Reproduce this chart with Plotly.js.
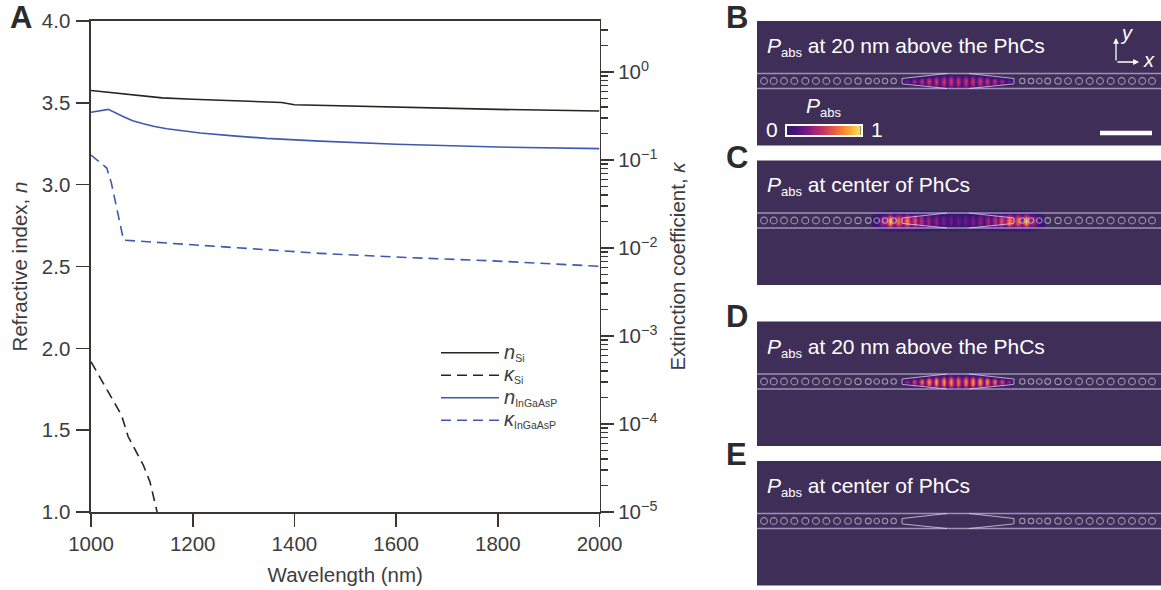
<!DOCTYPE html>
<html><head><meta charset="utf-8">
<script src="https://cdn.plot.ly/plotly-3.0.1.min.js"></script>
<style>html,body{margin:0;padding:0;background:#fff}#g{width:1161px;height:590px}</style>
</head><body><div id="g"></div>
<script>
// ---- Panel A data
const nSiWl = [1000,1050,1100,1140,1200,1300,1375,1400,1500,1600,1800,2000];
const nSi = [3.575,3.558,3.545,3.53,3.522,3.51,3.502,3.488,3.48,3.475,3.46,3.45];
const nIngaWl = [1000,1034,1064,1082,1103,1125,1149,1180,1215,1280,1345,1450,1600,1800,2000];
const nInga = [3.442,3.46,3.415,3.39,3.372,3.355,3.342,3.328,3.316,3.298,3.283,3.266,3.247,3.23,3.22];
const kIngaWl = [1000,1031,1040,1051,1064,1450,1600,1800,2000];
const kInga = [0.114,0.081,0.055,0.027,0.0123,0.0087,0.0079,0.0071,0.0062];
const kSiWl = [1000,1031,1060,1073,1103,1116,1130];
const kSi = [5.1e-4,2.43e-4,1.26e-4,7.2e-5,3.4e-5,2.2e-5,1.0e-5];
const seriesSymbols = ['n','κ','n','κ'];
const seriesSubs = ['Si','Si','InGaAsP','InGaAsP'];
const xTicks = [1000,1200,1400,1600,1800,2000];
const kTicks = [1e-5,1e-4,1e-3,1e-2,1e-1,1];
const kTickText = ['10<sup>−5</sup>','10<sup>−4</sup>','10<sup>−3</sup>','10<sup>−2</sup>','10<sup>−1</sup>','10<sup>0</sup>'];
const kMinor = [2e-5,3e-5,4e-5,5e-5,6e-5,7e-5,8e-5,9e-5,2e-4,3e-4,4e-4,5e-4,6e-4,7e-4,8e-4,9e-4,2e-3,3e-3,4e-3,5e-3,6e-3,7e-3,8e-3,9e-3,2e-2,3e-2,4e-2,5e-2,6e-2,7e-2,8e-2,9e-2,0.2,0.3,0.4,0.5,0.6,0.7,0.8,0.9,2,3];

// ---- Panels B-E geometry (offsets from the cavity centre)
const holeOffsets = [64.3,73,81.3,89.7,100,110,121,131.7,142,152.7,163.7,174,184.3,194];
const holeSizes = [5.4,5.4,5.6,5.8,6.2,6.6,6.8,6.8,6.8,6.8,6.8,6.8,6.8,6.8];
const waveguideEdge = 7.5;
const cavityOutlineX = [11,55,56,56,55,11];
const cavityOutlineY = [7.5,3,2.5,-2.5,-3,-7.5];

// ---- Absorbed power maps: half profiles read along the cavity, rows away from the centre line
const lobeXBD = [0,3.65,7.3,10.95,14.6,18.25,21.9,25.55,29.2,32.85,36.5,40.15,43.8,47.45,51.1,54.75,58.4];
const rowYBD = [0,2.5,4.5,6.5,7.5];
const bRow0 = [.55,.13,.55,.13,.56,.14,.56,.14,.56,.14,.54,.13,.46,.1,.34,.06,0];
const bRow1 = [.5,.12,.5,.12,.5,.13,.5,.12,.46,.11,.38,.09,.26,.05,.1,0,0];
const bRow2 = [.34,.1,.34,.1,.33,.1,.3,.08,.2,.06,.06,.02,0,0,0,0,0];
const bRow3 = [.14,.05,.14,.05,.1,.04,.04,.01,0,0,0,0,0,0,0,0,0];
const bRow4 = [0,0,0,0,0,0,0,0,0,0,0,0,0,0,0,0,0];
const dRow0 = [.78,.2,.84,.2,.88,.2,.9,.2,.88,.2,.82,.17,.66,.13,.46,.07,0];
const dRow1 = [.72,.18,.76,.18,.8,.18,.8,.17,.74,.15,.6,.12,.4,.07,.14,0,0];
const dRow2 = [.5,.14,.52,.14,.52,.13,.46,.1,.32,.08,.1,.03,0,0,0,0,0];
const dRow3 = [.2,.06,.2,.06,.14,.04,.06,.01,0,0,0,0,0,0,0,0,0];
const dRow4 = [0,0,0,0,0,0,0,0,0,0,0,0,0,0,0,0,0];
const lobeXC = [0,3.65,7.3,11,14.7,18.35,22,25.85,29.7,33.35,37,40,43,47,51.3,55.5,59.7,63.85,68,72,76,80,84,88];
const rowYC = [0,2.5,4.5,6.5,9,11];
const cRow0 = [.26,.1,.28,.11,.32,.12,.36,.14,.42,.17,.5,.25,.66,.3,.82,.35,.75,.32,.98,.35,.42,.15,.1,0];
const cRow1 = [.24,.09,.26,.1,.3,.11,.34,.13,.39,.16,.46,.23,.6,.28,.74,.32,.68,.3,.86,.32,.38,.13,.08,0];
const cRow2 = [.18,.08,.2,.08,.22,.09,.26,.1,.3,.12,.36,.18,.44,.2,.52,.24,.5,.22,.6,.24,.26,.1,.05,0];
const cRow3 = [.08,.04,.08,.04,.1,.05,.12,.05,.14,.06,.18,.1,.22,.12,.28,.14,.26,.12,.32,.14,.13,.06,.02,0];
const cRow4 = [.02,.02,.03,.02,.03,.02,.04,.02,.05,.03,.06,.04,.08,.05,.1,.06,.1,.06,.1,.05,.03,0,0,0];
const cRow5 = [0,0,0,0,0,0,0,0,0,0,0,0,0,0,0,0,0,0,0,0,0,0,0,0];
const barLevels = [.03,.08,.14,.2,.3,.4,.5,.6,.7,.8,.9,1];

const panelLetters = ['A','B','C','D','E'];
const panelCaptions = ['at 20 nm above the PhCs','at center of PhCs','at 20 nm above the PhCs','at center of PhCs'];

const W=1161,H=590;
const ink='#3b3533', text='#3d3d3d', blue='#3f58b4', dark='#2a2320', bg='rgb(63,47,88)';
const font='"Liberation Sans", Arial, sans-serif';
const px=v=>v/W, py=v=>1-v/H;
const pow=[[0,bg],[.04,'rgb(50,24,108)'],[.15,'rgb(74,20,128)'],[.3,'rgb(130,25,130)'],[.5,'rgb(200,50,105)'],[.7,'rgb(240,110,55)'],[.85,'rgb(250,170,50)'],[1,'rgb(252,235,110)']];

const mirrorX = a => a.slice(1).map(v=>-v).reverse().concat(a);
const mirrorR = r => r.slice(1).reverse().concat(r);
function grid(rows){ const full=rows.map(mirrorR); return full.slice(1).reverse().concat(full); }
const mirrorY = a => a.slice(1).map(v=>-v).reverse().concat(a);
const subLabel=(sym,sub)=>'<span style="font-size:20px"><i>'+sym+'</i></span><sub><span style="font-size:10.5px">'+sub+'</span></sub>';
const Pabs='<span style="font-size:21px"><i>P</i></span><sub><span style="font-size:13px">abs</span></sub>';

const line=(x,y,i,color,dash,ya)=>({type:'scatter',mode:'lines',x,y,name:subLabel(seriesSymbols[i],seriesSubs[i]),xaxis:'x',yaxis:ya,
  line:{color,width:1.6,dash:dash?'10px,6px':'solid'}});
const traces=[
  line(nSiWl,nSi,0,dark,false,'y'),
  line(kSiWl,kSi,1,dark,true,'y2'),
  line(nIngaWl,nInga,2,blue,false,'y'),
  line(kIngaWl,kInga,3,blue,true,'y2')
];

const panels=[{top:21,x:'x3',y:'y3',map:[lobeXBD,rowYBD,[bRow0,bRow1,bRow2,bRow3,bRow4]]},
              {top:160.5,x:'x4',y:'y4',map:[lobeXC,rowYC,[cRow0,cRow1,cRow2,cRow3,cRow4,cRow5]]},
              {top:321.5,x:'x5',y:'y5',map:[lobeXBD,rowYBD,[dRow0,dRow1,dRow2,dRow3,dRow4]]},
              {top:461,x:'x6',y:'y6',map:null}];
const layout={width:W,height:H,paper_bgcolor:'#fff',plot_bgcolor:'rgba(0,0,0,0)',
  margin:{l:0,r:0,t:0,b:0,autoexpand:false},font:{family:font,size:20.5,color:text},
  showlegend:true,
  legend:{x:px(436),y:py(336.5),xanchor:'left',yanchor:'top',bgcolor:'rgba(0,0,0,0)',itemwidth:58,font:{size:15,color:text},itemclick:false,itemdoubleclick:false},
  xaxis:{domain:[px(91),px(599.5)],range:[1000,2000],tickvals:xTicks,ticks:'outside',ticklen:13,tickwidth:1.6,tickcolor:ink,showline:true,linecolor:ink,linewidth:1.6,mirror:true,showgrid:false,zeroline:false,tickfont:{size:20.5,color:text},anchor:'y',title:{text:'Wavelength (nm)',font:{size:20.5,color:text},standoff:13}},
  yaxis:{domain:[py(512),py(21)],range:[1,4],tickvals:[1,1.5,2,2.5,3,3.5,4],ticktext:['1.0','1.5','2.0','2.5','3.0','3.5','4.0'],ticks:'outside',ticklen:13,ticklabelstandoff:2,tickwidth:1.6,tickcolor:ink,showline:true,linecolor:ink,linewidth:1.6,showgrid:false,zeroline:false,tickfont:{size:20.5,color:text},anchor:'x',title:{text:'Refractive index, <i>n</i>',font:{size:20.5,color:text},standoff:8}},
  yaxis2:{domain:[py(512),py(21)],type:'log',range:[-5,0.58],overlaying:'y',side:'right',anchor:'x',tickmode:'array',tickvals:kTicks,ticktext:kTickText,ticks:'outside',ticklen:13,tickwidth:1.6,tickcolor:ink,showline:true,linecolor:ink,linewidth:1.6,showgrid:false,zeroline:false,tickfont:{size:20.5,color:text},
    minor:{tickmode:'array',tickvals:kMinor,ticks:'outside',ticklen:7,tickwidth:1.4,tickcolor:ink,showgrid:false},
    title:{text:'Extinction coefficient, <i>κ</i>',font:{size:20.5,color:text},standoff:14}},
  shapes:[],annotations:[]
};
const note=(t,x,y,o={})=>layout.annotations.push(Object.assign({text:t,xref:'paper',yref:'paper',x:px(x),y:py(y),xanchor:'left',yanchor:'middle',showarrow:false,font:{size:21,color:'#fff'}},o));

panels.forEach((p,i)=>{
  const xn=p.x.replace('x','xaxis'), yn=p.y.replace('y','yaxis');
  layout[xn]={domain:[px(757),1],range:[-201,203],visible:false,anchor:p.y,fixedrange:true};
  layout[yn]={domain:[py(p.top+124.5),py(p.top)],range:[-64.5,60],visible:false,anchor:p.x,fixedrange:true};
  layout.shapes.push({type:'rect',layer:'below',xref:'paper',yref:'paper',x0:px(757),x1:1,y0:py(p.top+124.5),y1:py(p.top),fillcolor:bg,line:{width:0}});
  if(p.map){
    traces.push({type:'heatmap',x:mirrorX(p.map[0]),y:mirrorY(p.map[1]),z:grid(p.map[2]),xaxis:p.x,yaxis:p.y,zmin:0,zmax:1,zsmooth:'best',colorscale:pow,showscale:false,showlegend:false,hoverinfo:'skip'});
  }
  const wgX=[-201,203];
  [waveguideEdge,-waveguideEdge].forEach(e=>traces.push({type:'scatter',mode:'lines',x:wgX,y:[e,e],xaxis:p.x,yaxis:p.y,showlegend:false,hoverinfo:'skip',line:{color:'rgb(158,144,184)',width:1.6}}));
  const outX=[], outY=[];
  [-1,1].forEach(s=>{cavityOutlineX.forEach((v,k)=>{outX.push(s*v);outY.push(cavityOutlineY[k]);});outX.push(null);outY.push(null);});
  traces.push({type:'scatter',mode:'lines',x:outX,y:outY,xaxis:p.x,yaxis:p.y,showlegend:false,hoverinfo:'skip',line:{color:'rgba(225,218,234,0.75)',width:1}});
  const hx=holeOffsets.map(v=>-v).concat(holeOffsets), hs=holeSizes.concat(holeSizes);
  traces.push({type:'scatter',mode:'markers',x:hx,y:hx.map(()=>0),xaxis:p.x,yaxis:p.y,showlegend:false,hoverinfo:'skip',marker:{symbol:'circle-open',size:hs,color:'rgb(200,192,214)',line:{width:1.1,color:'rgb(200,192,214)'}}});
  note(Pabs+' '+panelCaptions[i],765,p.top+26);
  note('<b>'+panelLetters[i+1]+'</b>',724,p.top-3.5+(i==3?-3:0)+(i==2?-2:0),{font:{size:31,color:'#2b2b2b'}});
});
note('<b>A</b>',8,18,{font:{size:31,color:'#2b2b2b'}});

// colour key
traces.push({type:'heatmap',x:barLevels,y:[0,1],z:[barLevels,barLevels],xaxis:'x7',yaxis:'y7',zmin:0,zmax:1,zsmooth:'best',colorscale:pow,showscale:false,showlegend:false,hoverinfo:'skip'});
layout.xaxis7={domain:[px(786.5),px(861)],range:[.03,1],anchor:'y7',showticklabels:false,ticks:'',showgrid:false,zeroline:false,showline:true,mirror:true,linecolor:'#fff',linewidth:1.6};
layout.yaxis7={domain:[py(135),py(125.5)],range:[0,1],anchor:'x7',showticklabels:false,ticks:'',showgrid:false,zeroline:false,showline:true,mirror:true,linecolor:'#fff',linewidth:1.6};
note('0',764,130);
note('1',869,130);
note(Pabs,804,107);
// scale bar on panel B
layout.shapes.push({type:'rect',xref:'x3',yref:'y3',x0:142,x1:194,y0:-54.3,y1:-49.7,fillcolor:'#fff',line:{width:0}});
// xy compass
const arrow=(x,y,ax,ay)=>layout.annotations.push({xref:'paper',yref:'paper',axref:'pixel',ayref:'pixel',x:px(x),y:py(y),ax,ay,text:'',showarrow:true,arrowhead:2,arrowsize:0.9,arrowwidth:1.3,arrowcolor:'#fff'});
arrow(1139,62,-23,0); arrow(1116,38,0,24);
note('<i>x</i>',1141,60,{font:{size:20,color:'#fff'}});
note('<i>y</i>',1118,33,{font:{size:20,color:'#fff'}});

Plotly.newPlot('g',traces,layout,{displayModeBar:false,staticPlot:true});
</script></body></html>
